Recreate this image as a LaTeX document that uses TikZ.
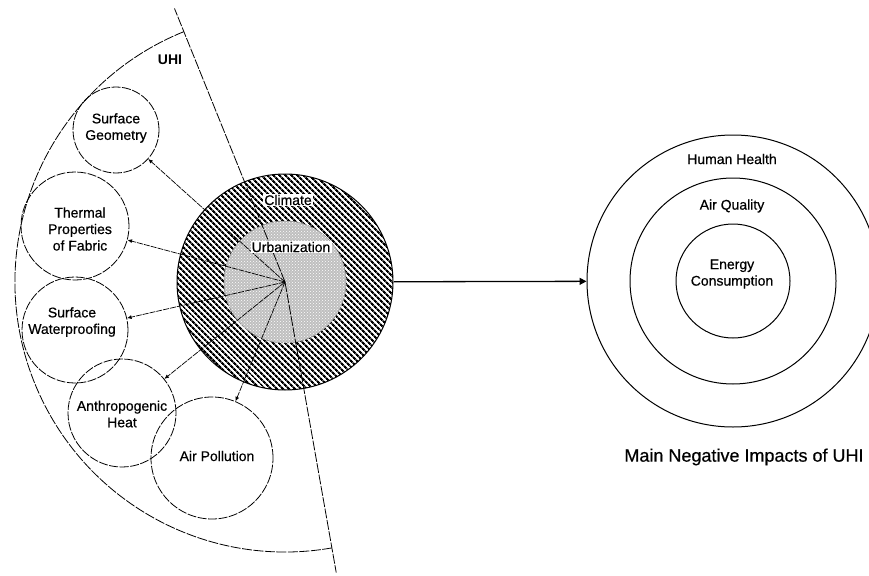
\documentclass[tikz,border=0pt]{standalone}
\usepackage{fontspec}
\setmainfont{Liberation Sans}
\newfontfamily\lblfont{Liberation Sans}[FakeBold=0.5]
\usetikzlibrary{patterns,patterns.meta,arrows.meta}
\begin{document}
\begin{tikzpicture}[x=1pt,y=-1pt,
  lbl/.style={font=\lblfont\fontsize{14}{16.5}\selectfont, align=center, inner sep=0pt},
  fac/.style={circle, draw, dash pattern=on 9pt off 1.5pt, line width=0.8pt, inner sep=0pt, minimum size=#1},
  ray/.style={line width=0.7pt, dash pattern=on 6pt off 1pt, -{Latex[length=4.5pt,width=4pt]}},
  bound/.style={line width=0.8pt, dash pattern=on 10pt off 1.5pt},
  ring/.style={circle, draw, line width=1pt, inner sep=0pt, minimum size=#1},
  wbox/.style={lbl, fill=white, inner sep=1.2pt},
]
\useasboundingbox (0,0) rectangle (869,575);
\clip (0,0) rectangle (869,575);
\coordinate (C) at (285,282);
% UHI sector
\draw[bound] (C) ++(-112:270) arc[start angle=-112, end angle=-280, radius=270];
% factor circles
\node[fac=86]  (sg) at (116,130) {};
\node[fac=108] (tp) at (75,226) {};
\node[fac=106] (sw) at (75,330) {};
\node[fac=108] (ah) at (122,413) {};
\node[fac=122] (ap) at (212,458) {};
% central circles
\node[circle, minimum size=216, inner sep=0pt, draw, line width=1pt,
      preaction={fill=white},
      pattern={Lines[angle=-45,distance=4pt,line width=2.3pt]}] (clim) at (C) {};
\node[circle, minimum size=122, inner sep=0pt, draw=gray, line width=0.5pt,
      fill=gray!50, postaction={pattern=crosshatch dots, pattern color=white}] (urb) at (C) {};
% sector boundaries
\draw[bound] (C) -- ++(-112:295) coordinate (bt);
\draw[bound] (C) -- ++(80:295) coordinate (bb);
% arrows
\draw[ray] (C) -- (sg);
\draw[ray] (C) -- (tp);
\draw[ray] (C) -- (sw);
\draw[ray] (C) -- (ah);
\draw[ray] (C) -- (ap);
% labels left
\node[lbl, font=\fontsize{14}{16.5}\selectfont\bfseries] (tuhi) at (170,60) {UHI};
\node[lbl] (tsg) at (116,128) {Surface\\Geometry};
\node[lbl] (ttp) at (80,229) {Thermal\\Properties\\of Fabric};
\node[lbl] (tsw) at (72,322) {Surface\\Waterproofing};
\node[lbl] (tah) at (122,414) {Anthropogenic\\Heat};
\node[lbl] (tap) at (217,456) {Air Pollution};
\node[wbox] (tcl) at (288,200) {Climate};
\node[wbox] (tur) at (291,247) {Urbanization};
% right circles
\node[ring=292] (hh) at (733,281) {};
\node[ring=206] (aq) at (733,281) {};
\node[ring=114] (ec) at (733,281) {};
\draw[line width=1.3pt, -{Triangle[length=7pt,width=7pt]}] (clim) -- (hh);
\node[lbl] (thh) at (732,159) {Human Health};
\node[lbl] (taq) at (732,206) {Air Quality};
\node[lbl] (tec) at (732,274) {Energy\\Consumption};
\node[lbl, font=\lblfont\fontsize{18}{21}\selectfont] (ttitle) at (744,457) {Main Negative Impacts of UHI};
\end{tikzpicture}
\end{document}
